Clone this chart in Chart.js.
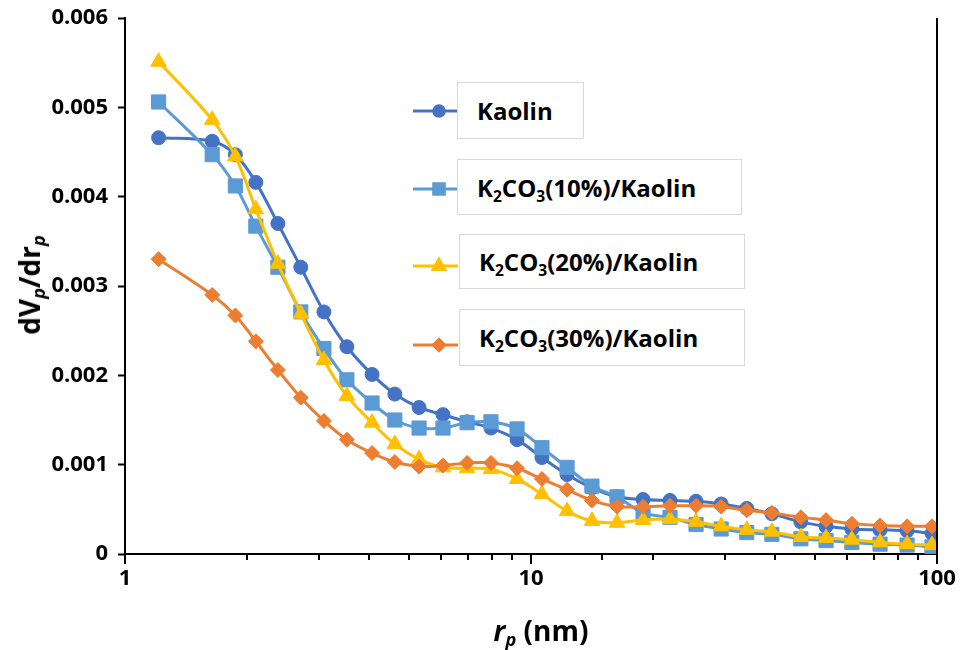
<!DOCTYPE html>
<html>
<head>
<meta charset="utf-8">
<script src="https://cdn.jsdelivr.net/npm/chart.js@4.4.1/dist/chart.umd.min.js"></script>
<style>
  html, body { margin: 0; padding: 0; background: #fff; }
  #wrap { position: relative; width: 961px; height: 650px; font-family: "Open Sans", sans-serif; }
  #c { position: absolute; left: 0; top: 0; }
  .leg {
    position: absolute; box-sizing: border-box; border: 1px solid #d9d9d9; background: #fff;
    display: flex; align-items: center; padding-left: 19px;
    font-weight: 700; font-size: 24px; color: #000; white-space: nowrap;
  }
  sub { font-size: 0.65em; vertical-align: -0.3em; line-height: 0; }
  .title { position: absolute; font-weight: 700; font-size: 28px; color: #000; white-space: nowrap; }
  #ytitle { left: 29px; top: 285px; transform: translate(-50%, -50%) rotate(-90deg); }
  #xtitle { left: 541px; top: 630px; transform: translate(-50%, -50%); }
</style>
</head>
<body>
<div id="wrap">
  <canvas id="c" width="961" height="650"></canvas>
  <div class="leg" style="left:457px;top:82px;width:127px;height:57px;"><span>Kaolin</span></div>
  <div class="leg" style="left:457px;top:159px;width:285px;height:56px;"><span>K<sub>2</sub>CO<sub>3</sub>(10%)/Kaolin</span></div>
  <div class="leg" style="left:459px;top:234px;width:286px;height:55px;"><span>K<sub>2</sub>CO<sub>3</sub>(20%)/Kaolin</span></div>
  <div class="leg" style="left:459px;top:309px;width:286px;height:57px;"><span>K<sub>2</sub>CO<sub>3</sub>(30%)/Kaolin</span></div>
  <div class="title" id="ytitle">dV<sub><i>p</i></sub>/dr<sub><i>p</i></sub></div>
  <div class="title" id="xtitle"><i>r<sub>p</sub></i> (nm)</div>
</div>
<script>
// pore radius (nm), shared by all series
const radius = [1.21, 1.64, 1.87, 2.10, 2.38, 2.71, 3.09, 3.52, 4.06, 4.62, 5.30, 6.07, 6.96, 7.97, 9.24,
  10.64, 12.27, 14.13, 16.29, 18.88, 22.0, 25.5, 29.4, 34.0, 39.2, 46.2, 53.3, 61.7, 72.4, 84.4, 97.2];

const kaolin = [0.00466, 0.00462, 0.00447, 0.00416, 0.00370, 0.00321, 0.00271, 0.00232, 0.00201, 0.00179, 0.00164,
  0.00156, 0.00148, 0.00141, 0.00128, 0.00108, 0.00089, 0.00074, 0.00064, 0.00061, 0.00060, 0.00059, 0.00056,
  0.00051, 0.00045, 0.00036, 0.00031, 0.00028, 0.00027, 0.00026, 0.00023];
const k10 = [0.00506, 0.00447, 0.00412, 0.00367, 0.00321, 0.00271, 0.00230, 0.00195, 0.00169, 0.00150, 0.00141,
  0.00141, 0.00147, 0.00148, 0.00140, 0.00119, 0.00097, 0.00076, 0.00064, 0.00046, 0.00041, 0.00033, 0.00028,
  0.00024, 0.00022, 0.00017, 0.00015, 0.00013, 0.00011, 0.00010, 0.00008];
const k20 = [0.00551, 0.00486, 0.00445, 0.00386, 0.00325, 0.00269, 0.00217, 0.00177, 0.00147, 0.00123, 0.00106,
  0.00097, 0.00096, 0.00095, 0.00084, 0.00067, 0.00048, 0.00037, 0.00035, 0.00038, 0.00039, 0.00036, 0.00031,
  0.00027, 0.00025, 0.00019, 0.00018, 0.00016, 0.00013, 0.00011, 0.00010];
const k30 = [0.00330, 0.00290, 0.00267, 0.00238, 0.00206, 0.00175, 0.00149, 0.00128, 0.00113, 0.00103, 0.00098,
  0.00099, 0.00102, 0.00102, 0.00096, 0.00084, 0.00072, 0.00060, 0.00053, 0.00053, 0.00054, 0.00054, 0.00053,
  0.00049, 0.00046, 0.00041, 0.00038, 0.00034, 0.00032, 0.00031, 0.00031];

const yTicks = [0, 0.001, 0.002, 0.003, 0.004, 0.005, 0.006];
const xLabels = [1, 10, 100];

const colors = ["#4472C4", "#5B9BD5", "#FFC000", "#ED7D31"];
const shapes = ["circle", "rect", "triangle", "rectRot"];
const sizes = [7, 10, 9, 7.5];

function pts(vals) {
  return radius.map((r, i) => ({ x: r, y: vals[i] }));
}

function series(vals, i) {
  return {
    data: pts(vals),
    borderColor: colors[i],
    backgroundColor: colors[i],
    pointBackgroundColor: colors[i],
    pointBorderColor: colors[i],
    pointStyle: shapes[i],
    pointRadius: sizes[i],
    pointBorderWidth: 1,
    borderWidth: 3,
    tension: 0.35,
    order: 4 - i
  };
}

// legend swatches (line + marker) next to the boxes
const legendY = [111, 189, 266, 345];
const legendPlugin = {
  id: "legendSwatches",
  afterDraw(chart) {
    const ctx = chart.ctx;
    ctx.save();
    legendY.forEach((y, i) => {
      ctx.strokeStyle = colors[i];
      ctx.lineWidth = 3;
      ctx.beginPath();
      ctx.moveTo(413, y);
      ctx.lineTo(458, y);
      ctx.stroke();
      ctx.fillStyle = colors[i];
      Chart.helpers.drawPoint(ctx, { pointStyle: shapes[i], radius: sizes[i] * 0.75, borderWidth: 1 }, 439, y);
      ctx.fill();
    });
    ctx.restore();
  }
};

// log-axis tick marks (major longer than minor) and the right frame line
const axisPlugin = {
  id: "axisMarks",
  afterDraw(chart) {
    const ctx = chart.ctx;
    const xs = chart.scales.x;
    const area = chart.chartArea;
    ctx.save();
    ctx.strokeStyle = "#000";
    ctx.lineWidth = 2;
    xs.ticks.forEach(t => {
      const px = Math.round(xs.getPixelForValue(t.value));
      const len = xLabels.includes(t.value) ? 10 : 6;
      ctx.beginPath();
      ctx.moveTo(px, area.bottom);
      ctx.lineTo(px, area.bottom + len);
      ctx.stroke();
    });
    ctx.beginPath();
    ctx.moveTo(area.right, area.top);
    ctx.lineTo(area.right, area.bottom);
    ctx.stroke();
    ctx.restore();
  }
};

const tickFont = { family: "'Open Sans', sans-serif", size: 22, weight: "bold" };

new Chart(document.getElementById("c"), {
  type: "line",
  data: {
    datasets: [series(kaolin, 0), series(k10, 1), series(k20, 2), series(k30, 3)]
  },
  options: {
    responsive: false,
    animation: false,
    devicePixelRatio: 1,
    layout: { padding: { top: 18, right: 24, left: 0, bottom: 0 } },
    plugins: { legend: { display: false }, tooltip: { enabled: false } },
    scales: {
      x: {
        type: "logarithmic",
        min: 1,
        max: 100,
        grid: { display: true, drawOnChartArea: false, drawTicks: false },
        border: { display: true, color: "#000", width: 2 },
        ticks: {
          autoSkip: false,
          maxRotation: 0,
          padding: 12,
          color: "#000",
          font: tickFont,
          callback: v => xLabels.includes(v) ? String(v) : ""
        },
        afterFit: s => { s.height = 96; s.paddingLeft = 0; s.paddingRight = 0; }
      },
      y: {
        min: 0,
        max: 0.006,
        afterBuildTicks: s => { s.ticks = yTicks.map(v => ({ value: v })); },
        grid: { drawOnChartArea: false, drawTicks: true, tickLength: 7, tickWidth: 2, tickColor: "#000" },
        border: { display: true, color: "#000", width: 2 },
        ticks: {
          padding: 10,
          color: "#000",
          font: tickFont,
          callback: v => v === 0 ? "0" : v.toFixed(3)
        },
        afterFit: s => { s.width = 125; s.paddingTop = 0; s.paddingBottom = 0; }
      }
    }
  },
  plugins: [legendPlugin, axisPlugin]
});
</script>
</body>
</html>
